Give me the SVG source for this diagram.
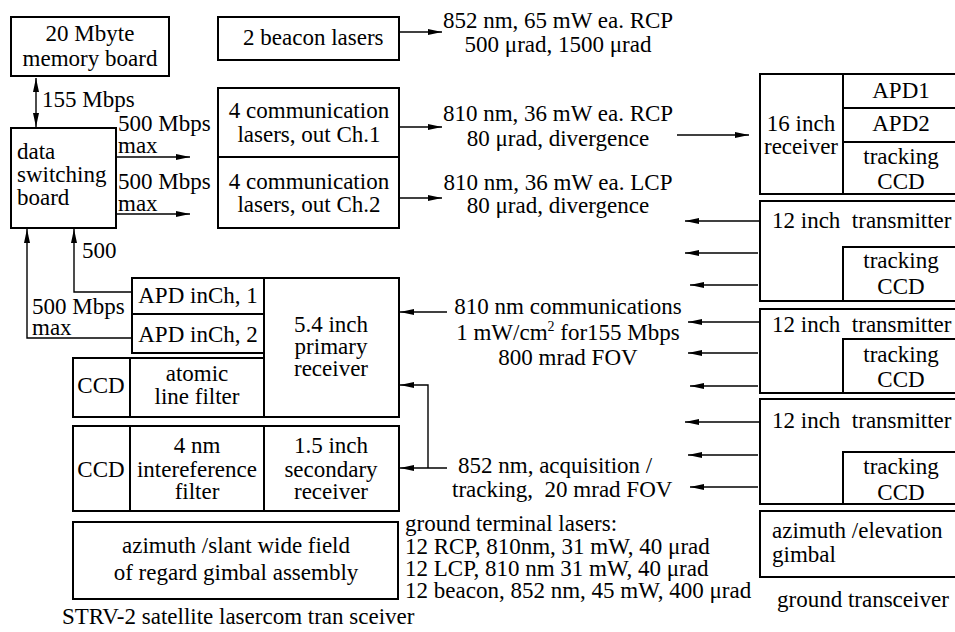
<svg xmlns="http://www.w3.org/2000/svg" width="955" height="632" viewBox="0 0 955 632" font-family="'Liberation Serif', 'DejaVu Serif', serif">
  <style>
    .box { fill: none; stroke: #000; stroke-width: 2; }
    .ln { fill: none; stroke: #000; stroke-width: 2; }
    .c { fill: none; stroke: #000; stroke-width: 1.4; }
    text { font-family: 'Liberation Serif', 'DejaVu Serif', serif; font-size: 23px; fill: #000; }
    .m { text-anchor: middle; }
  </style>
  <defs>
    <marker id="ah" markerUnits="userSpaceOnUse" markerWidth="14" markerHeight="8" refX="14" refY="4" orient="auto-start-reverse">
      <path d="M0,1 L14,4 L0,7 Z" fill="#000"/>
    </marker>
  </defs>
  <rect width="955" height="632" fill="#fff"/>

  <!-- satellite side -->
  <g id="memory-board">
    <rect class="box" x="11" y="17" width="158" height="59"/>
    <text class="m" x="90" y="41">20 Mbyte</text>
    <text class="m" x="90" y="66">memory board</text>
  </g>

  <g id="data-switching-board">
    <rect class="box" x="11" y="128" width="105" height="100"/>
    <text x="17" y="159">data</text>
    <text x="17" y="182">switching</text>
    <text x="17" y="205">board</text>
  </g>

  <g id="beacon-lasers">
    <rect class="box" x="218" y="17" width="181" height="43"/>
    <text x="243" y="45">2 beacon lasers</text>
  </g>

  <g id="comm-lasers">
    <rect class="box" x="218" y="88" width="181" height="140"/>
    <line class="ln" x1="218" y1="157" x2="399" y2="157"/>
    <text class="m" x="309" y="118">4 communication</text>
    <text class="m" x="309" y="142">lasers, out Ch.1</text>
    <text class="m" x="309" y="189">4 communication</text>
    <text class="m" x="309" y="212">lasers, out Ch.2</text>
  </g>

  <g id="apd-inputs">
    <rect class="box" x="132" y="278" width="132" height="75"/>
    <line class="ln" x1="132" y1="314" x2="264" y2="314"/>
    <text class="m" x="198" y="303">APD inCh, 1</text>
    <text class="m" x="198" y="342">APD inCh, 2</text>
  </g>

  <g id="primary-receiver">
    <rect class="box" x="264" y="278" width="135" height="139"/>
    <text class="m" x="331" y="332">5.4 inch</text>
    <text class="m" x="331" y="354">primary</text>
    <text class="m" x="331" y="376">receiver</text>
  </g>

  <g id="atomic-filter">
    <rect class="box" x="73" y="358" width="191" height="59"/>
    <line class="ln" x1="130" y1="358" x2="130" y2="417"/>
    <text class="m" x="101" y="393">CCD</text>
    <text class="m" x="197" y="381">atomic</text>
    <text class="m" x="197" y="404">line filter</text>
  </g>

  <g id="secondary-receiver">
    <rect class="box" x="73" y="426" width="326" height="85"/>
    <line class="ln" x1="130" y1="426" x2="130" y2="511"/>
    <line class="ln" x1="264" y1="426" x2="264" y2="511"/>
    <text class="m" x="101" y="477">CCD</text>
    <text class="m" x="197" y="453">4 nm</text>
    <text class="m" x="197" y="477">intereference</text>
    <text class="m" x="197" y="499">filter</text>
    <text class="m" x="331" y="453">1.5 inch</text>
    <text class="m" x="331" y="477">secondary</text>
    <text class="m" x="331" y="499">receiver</text>
  </g>

  <g id="sat-gimbal">
    <rect class="box" x="73" y="522" width="325" height="77"/>
    <text class="m" x="236" y="553">azimuth /slant wide field</text>
    <text class="m" x="236" y="580">of regard gimbal assembly</text>
  </g>

  <!-- ground side -->
  <g id="receiver-16">
    <rect class="box" x="760" y="74" width="200" height="120"/>
    <line class="ln" x1="843" y1="74" x2="843" y2="194"/>
    <line class="ln" x1="843" y1="108" x2="960" y2="108"/>
    <line class="ln" x1="843" y1="142" x2="960" y2="142"/>
    <text class="m" x="801" y="131">16 inch</text>
    <text class="m" x="801" y="154">receiver</text>
    <text class="m" x="901" y="98">APD1</text>
    <text class="m" x="901" y="131">APD2</text>
    <text class="m" x="901" y="164">tracking</text>
    <text class="m" x="901" y="189">CCD</text>
  </g>

  <g id="transmitter-1">
    <rect class="box" x="760" y="201" width="200" height="100"/>
    <rect class="box" x="843" y="247" width="117" height="54"/>
    <text x="772" y="228">12 inch&#160; transmitter</text>
    <text class="m" x="901" y="268">tracking</text>
    <text class="m" x="901" y="294">CCD</text>
  </g>

  <g id="transmitter-2">
    <rect class="box" x="760" y="309" width="200" height="84"/>
    <rect class="box" x="843" y="339" width="117" height="54"/>
    <text x="772" y="332">12 inch&#160; transmitter</text>
    <text class="m" x="901" y="362">tracking</text>
    <text class="m" x="901" y="387">CCD</text>
  </g>

  <g id="transmitter-3">
    <rect class="box" x="760" y="399" width="200" height="105"/>
    <rect class="box" x="843" y="452" width="117" height="52"/>
    <text x="772" y="428">12 inch&#160; transmitter</text>
    <text class="m" x="901" y="474">tracking</text>
    <text class="m" x="901" y="500">CCD</text>
  </g>

  <g id="ground-gimbal">
    <rect class="box" x="760" y="511" width="200" height="66"/>
    <text x="772" y="538">azimuth /elevation</text>
    <text x="772" y="562">gimbal</text>
  </g>

  <!-- link labels -->
  <g id="labels">
    <text x="42" y="107">155 Mbps</text>
    <text x="118" y="131">500 Mbps</text>
    <text x="118" y="153">max</text>
    <text x="118" y="189">500 Mbps</text>
    <text x="118" y="211">max</text>
    <text x="82" y="258">500</text>
    <text x="32" y="314">500 Mbps</text>
    <text x="32" y="335">max</text>

    <text class="m" x="558" y="28">852 nm, 65 mW ea. RCP</text>
    <text class="m" x="558" y="52">500 μrad, 1500 μrad</text>
    <text class="m" x="558" y="121">810 nm, 36 mW ea. RCP</text>
    <text class="m" x="558" y="146">80 μrad, divergence</text>
    <text class="m" x="558" y="190">810 nm, 36 mW ea. LCP</text>
    <text class="m" x="558" y="213">80 μrad, divergence</text>

    <text class="m" x="568" y="314">810 nm communications</text>
    <text class="m" x="568" y="340">1 mW/cm<tspan font-size="14" dy="-9">2</tspan><tspan dy="9"> for155 Mbps</tspan></text>
    <text class="m" x="568" y="365">800 mrad FOV</text>
    <text x="458" y="473">852 nm, acquisition /</text>
    <text x="452" y="497">tracking,&#160; 20 mrad FOV</text>

    <text x="405" y="531">ground terminal lasers:</text>
    <text x="405" y="554">12 RCP, 810nm, 31 mW, 40 μrad</text>
    <text x="405" y="576">12 LCP, 810 nm 31 mW, 40 μrad</text>
    <text x="405" y="598">12 beacon, 852 nm, 45 mW, 400 μrad</text>

    <text x="62" y="624">STRV-2 satellite lasercom tran sceiver</text>
    <text x="777" y="607">ground transceiver</text>
  </g>

  <!-- connectors -->
  <g id="connectors">
    <line class="c" x1="36" y1="78" x2="36" y2="127" marker-start="url(#ah)" marker-end="url(#ah)"/>
    <line class="c" x1="116" y1="157" x2="190" y2="157" marker-end="url(#ah)"/>
    <line class="c" x1="116" y1="214" x2="190" y2="214" marker-end="url(#ah)"/>
    <polyline class="c" points="132,292 74,292 74,229" marker-end="url(#ah)"/>
    <polyline class="c" points="132,338 27,338 27,229" marker-end="url(#ah)"/>

    <line class="c" x1="399" y1="32" x2="442" y2="32" marker-end="url(#ah)"/>
    <line class="c" x1="399" y1="127" x2="442" y2="127" marker-end="url(#ah)"/>
    <line class="c" x1="399" y1="198" x2="442" y2="198" marker-end="url(#ah)"/>
    <line class="c" x1="677" y1="135" x2="749" y2="135" marker-end="url(#ah)"/>

    <line class="c" x1="447" y1="312" x2="400" y2="312" marker-end="url(#ah)"/>
    <polyline class="c" points="428,468 428,385 400,385" marker-end="url(#ah)"/>
    <line class="c" x1="447" y1="468" x2="400" y2="468" marker-end="url(#ah)"/>

    <line class="c" x1="760" y1="221" x2="685" y2="221" marker-end="url(#ah)"/>
    <line class="c" x1="758" y1="253" x2="685" y2="253" marker-end="url(#ah)"/>
    <line class="c" x1="758" y1="285" x2="690" y2="285" marker-end="url(#ah)"/>
    <line class="c" x1="760" y1="322" x2="688" y2="322" marker-end="url(#ah)"/>
    <line class="c" x1="758" y1="353" x2="688" y2="353" marker-end="url(#ah)"/>
    <line class="c" x1="758" y1="386" x2="690" y2="386" marker-end="url(#ah)"/>
    <line class="c" x1="760" y1="422" x2="685" y2="422" marker-end="url(#ah)"/>
    <line class="c" x1="758" y1="455" x2="688" y2="455" marker-end="url(#ah)"/>
    <line class="c" x1="758" y1="487" x2="690" y2="487" marker-end="url(#ah)"/>
  </g>
</svg>
